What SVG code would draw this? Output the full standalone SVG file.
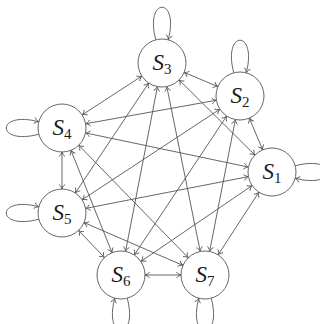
<svg xmlns="http://www.w3.org/2000/svg" width="320" height="324" viewBox="0 0 320 324">
<defs>
<marker id="a" viewBox="-6 -4 7 8" refX="0" refY="0" markerWidth="7" markerHeight="8" orient="auto-start-reverse" markerUnits="userSpaceOnUse">
<path d="M-4.5,-3 C-3,-1 -1,-0.3 0,0 C-1,0.3 -3,1 -4.5,3" fill="none" stroke="#555" stroke-width="0.9"/>
</marker>
<style>
.e{stroke:#555;stroke-width:0.9;fill:none;marker-start:url(#a);marker-end:url(#a)}
.l{stroke:#555;stroke-width:0.9;fill:none;marker-end:url(#a)}
.n{fill:#fff;stroke:#666;stroke-width:1}
.t{font-family:"Liberation Serif","DejaVu Serif",serif;font-size:23px;font-style:italic;fill:#1a1a1a;text-anchor:middle}
.s{font-size:15px;font-style:normal}
</style>
</defs>
<rect width="320" height="324" fill="#fff"/>
<g id="connectors">
<line class="e" x1="262.69" y1="149.88" x2="249.31" y2="118.12"/>
<line class="e" x1="254.95" y1="155.11" x2="179.05" y2="79.89"/>
<line class="e" x1="248.51" y1="167.08" x2="85.49" y2="132.92"/>
<line class="e" x1="248.44" y1="176.60" x2="85.56" y2="208.40"/>
<line class="e" x1="252.17" y1="185.52" x2="140.83" y2="261.48"/>
<line class="e" x1="258.91" y1="192.12" x2="218.09" y2="254.88"/>
<line class="e" x1="217.90" y1="86.65" x2="184.10" y2="72.35"/>
<line class="e" x1="216.38" y1="100.25" x2="85.62" y2="123.75"/>
<line class="e" x1="219.94" y1="109.18" x2="82.06" y2="199.82"/>
<line class="e" x1="226.71" y1="115.99" x2="134.29" y2="255.01"/>
<line class="e" x1="235.39" y1="119.55" x2="209.61" y2="251.45"/>
<line class="e" x1="141.88" y1="76.08" x2="82.12" y2="114.92"/>
<line class="e" x1="148.69" y1="82.97" x2="75.31" y2="193.03"/>
<line class="e" x1="157.44" y1="86.56" x2="125.56" y2="251.44"/>
<line class="e" x1="166.77" y1="86.52" x2="200.23" y2="251.48"/>
<line class="e" x1="62" y1="152" x2="62" y2="189"/>
<line class="e" x1="70.94" y1="150.27" x2="112.06" y2="252.73"/>
<line class="e" x1="78.74" y1="145.20" x2="188.26" y2="257.80"/>
<line class="e" x1="78.54" y1="230.39" x2="104.46" y2="257.61"/>
<line class="e" x1="84.02" y1="222.55" x2="182.98" y2="265.45"/>
<line class="e" x1="145" y1="275" x2="181" y2="275"/>
<path class="l" d="M155.79,39.82 C144.14,-3.65 179.86,-3.65 168.21,39.82"/>
<path class="l" d="M233.79,72.82 C222.14,29.35 257.86,29.35 246.21,72.82"/>
<path class="l" d="M295.18,165.79 C338.65,154.14 338.65,189.86 295.18,178.21"/>
<path class="l" d="M38.82,134.21 C-4.65,145.86 -4.65,110.14 38.82,121.79"/>
<path class="l" d="M38.82,219.21 C-4.65,230.86 -4.65,195.14 38.82,206.79"/>
<path class="l" d="M127.21,298.18 C138.86,341.65 103.14,341.65 114.79,298.18"/>
<path class="l" d="M211.21,298.18 C222.86,341.65 187.14,341.65 198.79,298.18"/>
</g>
<g id="S1"><circle class="n" cx="272" cy="172" r="24"/><text class="t" x="272" y="179">S<tspan class="s" dy="4">1</tspan></text></g>
<g id="S2"><circle class="n" cx="240" cy="96" r="24"/><text class="t" x="240" y="103">S<tspan class="s" dy="4">2</tspan></text></g>
<g id="S3"><circle class="n" cx="162" cy="63" r="24"/><text class="t" x="162" y="70">S<tspan class="s" dy="4">3</tspan></text></g>
<g id="S4"><circle class="n" cx="62" cy="128" r="24"/><text class="t" x="62" y="135">S<tspan class="s" dy="4">4</tspan></text></g>
<g id="S5"><circle class="n" cx="62" cy="213" r="24"/><text class="t" x="62" y="220">S<tspan class="s" dy="4">5</tspan></text></g>
<g id="S6"><circle class="n" cx="121" cy="275" r="24"/><text class="t" x="121" y="282">S<tspan class="s" dy="4">6</tspan></text></g>
<g id="S7"><circle class="n" cx="205" cy="275" r="24"/><text class="t" x="205" y="282">S<tspan class="s" dy="4">7</tspan></text></g>
</svg>
